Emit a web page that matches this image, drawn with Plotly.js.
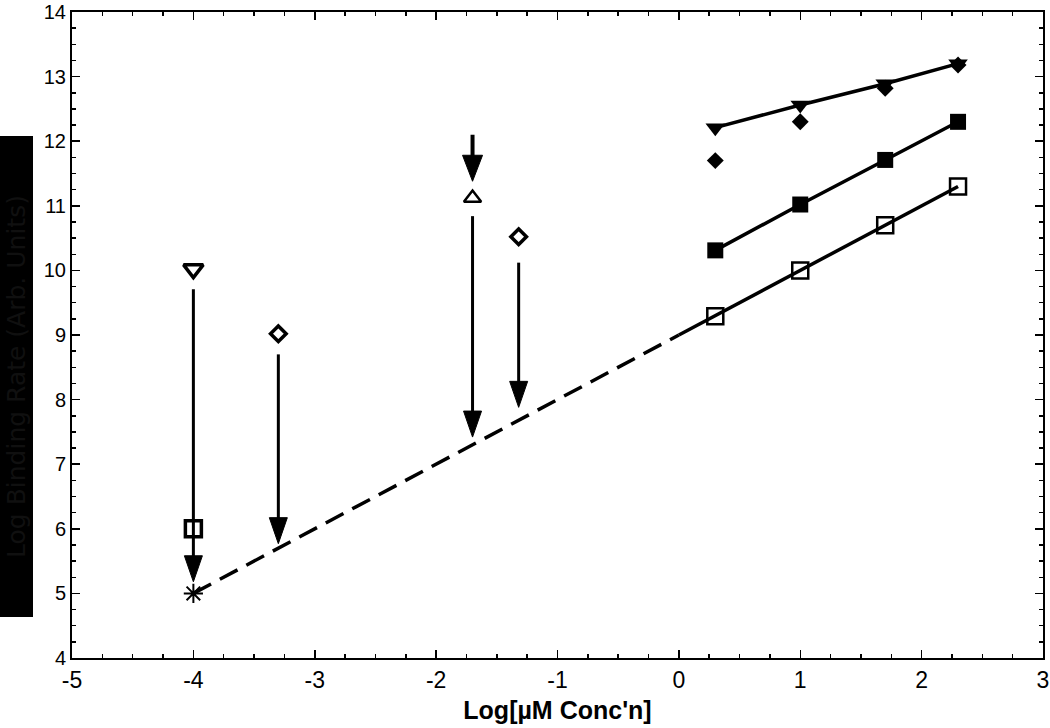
<!DOCTYPE html>
<html>
<head>
<meta charset="utf-8">
<script src="https://cdn.plot.ly/plotly-3.0.1.min.js"></script>
<style>
  html, body { margin: 0; padding: 0; background: #fff; }
  #chart { width: 1050px; height: 728px; }
</style>
</head>
<body>
<div id="chart"></div>
<script>
// ---- data ----
const concX      = [0.3, 1.0, 1.7, 2.3];
const openSquare = [9.29, 10.0, 10.70, 11.30];
const fillSquare = [10.31, 11.02, 11.71, 12.30];
const fillTriDn  = [12.21, 12.56, 12.89, 13.20];
const fillDiam   = [11.70, 12.30, 12.82, 13.18];

const fitSolidX = [0.0, 2.3];
const fitSolidY = [9.0, 11.3];
const fitDashX  = [-4.0, 0.0];
const fitDashY  = [5.0, 9.0];

const starX = [-4.0];
const starY = [5.0];
const openTriDnX = [-4.0];
const openTriDnY = [10.02];
const openSqLeftX = [-4.0];
const openSqLeftY = [6.0];
const openDiamX = [-3.3, -1.32];
const openDiamY = [9.02, 10.52];
const openTriUpX = [-1.7];
const openTriUpY = [11.12];

// arrows: x position, shaft start (y), tip (y)
const arrowX    = [-4.0, -3.3, -1.7, -1.32, -1.7];
const arrowFrom = [9.71, 8.70, 10.84, 10.12, 12.10];
const arrowTip  = [5.18, 5.77, 7.42, 7.88, 11.38];

const xTicks = [-5, -4, -3, -2, -1, 0, 1, 2, 3];
const yTicks = [4, 5, 6, 7, 8, 9, 10, 11, 12, 13, 14];

// ---- styling ----
const K = '#000';
const FONT = 'Liberation Sans, Arial, sans-serif';

const traces = [
  {x: fitDashX, y: fitDashY, mode: 'lines', line: {color: K, width: 3.5, dash: '20px,10px'}, hoverinfo: 'skip'},
  {x: fitSolidX, y: fitSolidY, mode: 'lines', line: {color: K, width: 3.5}, hoverinfo: 'skip'},
  {x: concX, y: openSquare, mode: 'markers', marker: {symbol: 'square-open', size: 16, color: K, line: {color: K, width: 2.5}}},
  {x: concX, y: fillSquare, mode: 'lines+markers', line: {color: K, width: 3.5}, marker: {symbol: 'square', size: 16, color: K}},
  {x: concX, y: fillTriDn, mode: 'lines+markers', line: {color: K, width: 3.5}, marker: {symbol: 'triangle-down', size: 17, color: K}},
  {x: concX, y: fillDiam, mode: 'markers', marker: {symbol: 'diamond', size: 13, color: K}},
  {x: starX, y: starY, mode: 'markers', marker: {symbol: 'asterisk-open', size: 16, color: K, line: {color: K, width: 2}}},
  {x: openTriDnX, y: openTriDnY, mode: 'markers', marker: {symbol: 'triangle-down-open', size: 17, color: K, line: {color: K, width: 3.5}}},
  {x: openSqLeftX, y: openSqLeftY, mode: 'markers', marker: {symbol: 'square-open', size: 16, color: K, line: {color: K, width: 3.5}}},
  {x: openDiamX, y: openDiamY, mode: 'markers', marker: {symbol: 'diamond-open', size: 12, color: K, line: {color: K, width: 3.5}}},
  {x: openTriUpX, y: openTriUpY, mode: 'markers', marker: {symbol: 'triangle-up-open', size: 15, color: K, line: {color: K, width: 2.5}}}
];

// arrows built from the arrow arrays
const HEAD_W = 9, HEAD_L = 26, OVERLAP = 0.2;
const shapes = [];
arrowX.forEach((ax, i) => {
  const wide = i === arrowX.length - 1;
  shapes.push({
    type: 'line', xref: 'x', yref: 'y',
    x0: ax, x1: ax, y0: arrowFrom[i], y1: arrowTip[i] + OVERLAP,
    line: {color: K, width: wide ? 4 : 3}
  });
  const hw = wide ? HEAD_W + 1 : HEAD_W;
  shapes.push({
    type: 'path', xref: 'x', yref: 'y',
    xsizemode: 'pixel', ysizemode: 'pixel',
    xanchor: ax, yanchor: arrowTip[i],
    path: 'M0,0 L' + (-hw) + ',' + HEAD_L + ' L' + hw + ',' + HEAD_L + ' Z',
    fillcolor: K, line: {color: K, width: 1}
  });
});

const axisCommon = {
  showline: true, linecolor: K, linewidth: 2, mirror: 'allticks',
  ticks: 'inside', ticklen: 8, tickwidth: 1.5, tickcolor: K,
  showgrid: false, zeroline: false, fixedrange: true,
  ticklabeloverflow: 'allow',
  minor: {ticks: 'inside', ticklen: 4, tickwidth: 1.5, tickcolor: K, dtick: 0.25, showgrid: false}
};

const layout = {
  width: 1050, height: 728,
  margin: {l: 72, r: 7, t: 12, b: 70},
  paper_bgcolor: '#fff', plot_bgcolor: '#fff',
  showlegend: false,
  font: {family: FONT, color: K},
  xaxis: Object.assign({}, axisCommon, {
    range: [-5, 3], tickmode: 'array', tickvals: xTicks, ticktext: xTicks.map(String),
    tickfont: {family: FONT, size: 23, color: K},
    title: {text: "Log[µM Conc'n]", font: {family: FONT, size: 25, color: K, weight: 'bold'}, standoff: 10}
  }),
  yaxis: Object.assign({}, axisCommon, {
    range: [4, 14], tickmode: 'array', tickvals: yTicks, ticktext: yTicks.map(String),
    tickfont: {family: FONT, size: 20, color: K}
  }),
  shapes: shapes,
  annotations: [{
    xref: 'paper', yref: 'paper',
    x: (15.5 - 72) / 971, y: (658 - 377) / 646,
    xanchor: 'center', yanchor: 'middle',
    text: 'Log Binding Rate (Arb. Units)', textangle: -90,
    showarrow: false, bgcolor: '#000', width: 478, height: 31,
    font: {family: 'DejaVu Sans, sans-serif', size: 25, color: '#101010'}
  }]
};

Plotly.newPlot('chart', traces, layout, {displayModeBar: false, staticPlot: true});
</script>
</body>
</html>
